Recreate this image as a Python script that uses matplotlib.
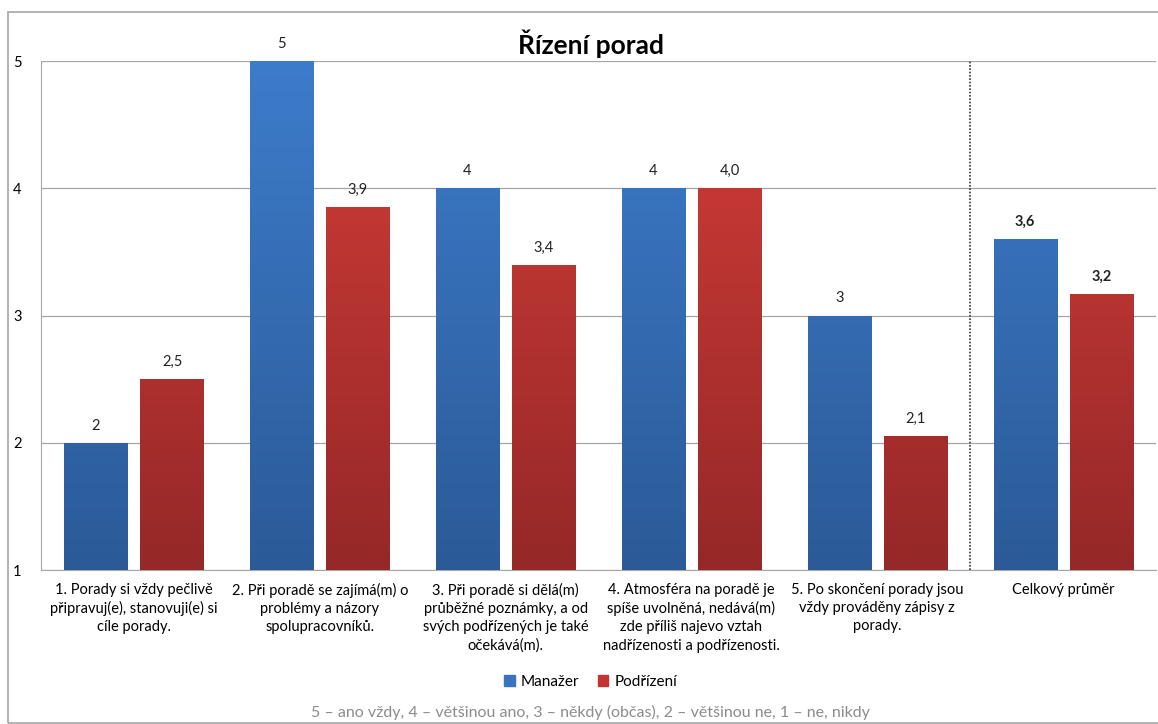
import numpy as np
import matplotlib
matplotlib.use("Agg")
import matplotlib.pyplot as plt
from matplotlib.patches import Rectangle, Patch
from matplotlib.colors import LinearSegmentedColormap

plt.rcParams['font.family'] = ['Lato', 'DejaVu Sans']

# data
categories = [
    "1. Porady si vždy pečlivě\npřipravuj(e), stanovuji(e) si\ncíle porady.",
    "2. Při poradě se zajímá(m) o\nproblémy a názory\nspolupracovníků.",
    "3. Při poradě si dělá(m)\nprůběžné poznámky, a od\nsvých podřízených je také\nočekává(m).",
    "4. Atmosféra na poradě je\nspíše uvolněná, nedává(m)\nzde příliš najevo vztah\nnadřízenosti a podřízenosti.",
    "5. Po skončení porady jsou\nvždy prováděny zápisy z\nporady.",
    "Celkový průměr",
]
manazer = [2, 5, 4, 4, 3, 3.6]
podrizeni = [2.5, 3.85, 3.4, 4.0, 2.05, 3.17]
manazer_labels = ["2", "5", "4", "4", "3", "3,6"]
podrizeni_labels = ["2,5", "3,9", "3,4", "4,0", "2,1", "3,2"]
yticks = [1, 2, 3, 4, 5]

fig = plt.figure(figsize=(11.58, 7.24), dpi=100)
ax = fig.add_axes([0.0354, 0.2127, 0.963, 0.703])

# outer frame
fig.patches.append(Rectangle((8 / 1158, 0.002), 1.2, 1 - 12 / 724 - 0.002, transform=fig.transFigure,
                             fill=False, edgecolor='#a6a6a6', linewidth=1.2))

x = np.arange(len(categories))
w = 0.34
off = 0.205

blue_cmap = LinearSegmentedColormap.from_list('b', ['#2b5a97', '#3d7ccb'])
red_cmap = LinearSegmentedColormap.from_list('r', ['#952828', '#d33d38'])
grad = np.linspace(0, 1, 256).reshape(-1, 1)


def gradient_bars(bars, cmap):
    for b in bars:
        x0 = b.get_x()
        im = ax.imshow(grad, cmap=cmap, origin='lower', aspect='auto',
                       extent=[x0, x0 + b.get_width(), 1, 5], zorder=3)
        im.set_clip_path(b)


bm = ax.bar(x - off, np.array(manazer) - 1, w, bottom=1, color='#3a74bf', zorder=2,
            edgecolor='none', label='Manažer')
bp = ax.bar(x + off, np.array(podrizeni) - 1, w, bottom=1, color='#c23533', zorder=2,
            edgecolor='none', label='Podřízení')
gradient_bars(bm, blue_cmap)
gradient_bars(bp, red_cmap)

for i in range(len(categories)):
    bold = 'bold' if i == len(categories) - 1 else 'normal'
    ax.text(x[i] - off, manazer[i] + 0.08, manazer_labels[i], ha='center', va='bottom',
            fontsize=10.5, fontweight=bold, color='#222222')
    ax.text(x[i] + off, podrizeni[i] + 0.08, podrizeni_labels[i], ha='center', va='bottom',
            fontsize=10.5, fontweight=bold, color='#222222')

ax.set_xlim(-0.5, len(categories) - 0.5)
ax.set_ylim(1, 5)
ax.set_yticks(yticks)
ax.set_yticklabels([str(v) for v in yticks], fontsize=10.5)
ax.yaxis.grid(True, color='#a6a6a6', linewidth=0.9, zorder=0)
ax.set_axisbelow(True)
ax.set_xticks(x)
ax.set_xticklabels(categories, fontsize=10.5, linespacing=1.38, va='top')
ax.tick_params(axis='x', length=0, pad=9)
ax.tick_params(axis='y', length=0, pad=14)
for s in ['top', 'right']:
    ax.spines[s].set_visible(False)
ax.spines['left'].set_color('#a6a6a6')
ax.spines['bottom'].set_color('#a6a6a6')

# dotted divider before the overall average
ax.axvline(len(categories) - 1.5, color='#333333', linestyle=(0, (1, 1)), linewidth=1.2, zorder=4)

fig.text(0.51, 1 - 44 / 724, "Řízení porad", ha='center', va='center', fontsize=19, fontweight='bold')

handles = [Patch(color='#3a74bf'), Patch(color='#c23533')]
fig.legend(handles, ['Manažer', 'Podřízení'], loc='center', bbox_to_anchor=(0.51, 0.058),
           ncol=2, frameon=False, fontsize=11, handlelength=0.7, handleheight=0.7,
           handletextpad=0.4, columnspacing=1.2)
fig.text(0.51, 0.016, "5 – ano vždy, 4 – většinou ano, 3 – někdy (občas), 2 – většinou ne, 1 – ne, nikdy",
         ha='center', va='center', fontsize=11.5, color='#8c8c8c')

fig.savefig("out.png", dpi=100)
